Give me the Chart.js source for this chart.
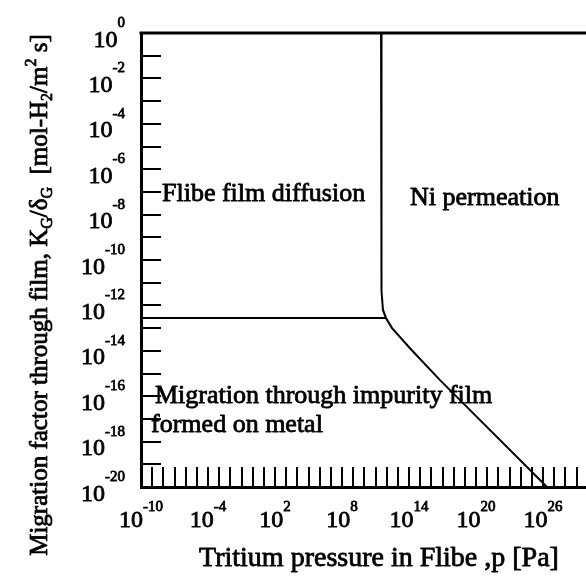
<!DOCTYPE html>
<html>
<head>
<meta charset="utf-8">
<script src="https://cdn.jsdelivr.net/npm/chart.js@4.4.1/dist/chart.umd.min.js"></script>
<style>
  html, body { margin: 0; padding: 0; background: #fff; }
  #wrap { width: 586px; height: 583px; }
</style>
</head>
<body>
<div id="wrap"><canvas id="c" width="586" height="583"></canvas></div>
<script>
// Boundary between film-controlled migration and Ni permeation
const niBoundaryP = [3.1e11, 3.4e11, 4.6e11, 8.5e11, 3.0e12, 1.2e14, 5.9e16, 9.8e25, 2.2e26];
const niBoundaryK = [1, 4.3e-12, 6.3e-13, 2.8e-13, 1.0e-13, 1.3e-14, 5.1e-16, 1.5e-20, 1e-20];
// Boundary between Flibe film diffusion and impurity-film migration
const filmBoundaryP = [1e-10, 8.5e11];
const filmBoundaryK = [2.8e-13, 2.8e-13];

// Labelled decades on each axis
const xLabelExps = [-10, -4, 2, 8, 14, 20, 26];
const yLabelExps = [0, -2, -4, -6, -8, -10, -12, -14, -16, -18, -20];

// Axis range (decades)
const xMinExp = -10, xMaxExp = 29.84;
const yMinExp = -20, yMaxExp = 0;

const regionNotes = [
  { text: 'Flibe film diffusion', xExp: -8.12, yExp: -7.40 },
  { text: 'Ni permeation', xExp: 14.08, yExp: -7.58 },
  { text: 'Migration through impurity film', xExp: -8.75, yExp: -16.30 },
  { text: 'formed on metal', xExp: -9.10, yExp: -17.58 }
];

const xTitle = 'Tritium pressure in Flibe ,p [Pa]';
// y title pieces: [text, mode] where mode is n (normal), b (subscript), p (superscript)
const yTitle = [
  ['Migration factor through film, K', 'n'], ['G', 'b'], ['/\u03b4', 'n'], ['G', 'b'],
  ['  [mol-H', 'n'], ['2', 'b'], ['/m', 'n'], ['2', 'p'], [' s]', 'n']
];

const SERIF = '"Liberation Serif", "Times New Roman", serif';
const toPoints = (xs, ys) => xs.map((v, i) => ({ x: v, y: ys[i] }));
const decades = (a, b) => { const t = []; for (let e = Math.ceil(a); e <= Math.floor(b); e++) t.push({ value: Math.pow(10, e) }); return t; };

// heavier type: fill plus a thin outline
function heavyText(ctx, s, x, y) {
  ctx.fillText(s, x, y);
  ctx.strokeText(s, x, y);
}

const axisDecor = {
  id: 'axisDecor',
  afterDraw(chart) {
    const { ctx, chartArea: a, scales: { x, y } } = chart;
    ctx.save();
    ctx.strokeStyle = '#000';
    ctx.fillStyle = '#000';

    // top edge of the frame
    ctx.lineWidth = 3;
    ctx.beginPath();
    ctx.moveTo(a.left - 1.5, a.top);
    ctx.lineTo(a.right, a.top);
    ctx.stroke();

    // inward tick marks, one per decade
    ctx.lineWidth = 2;
    ctx.beginPath();
    y.ticks.forEach(t => {
      const py = Math.round(y.getPixelForValue(t.value));
      if (py <= a.top + 2 || py >= a.bottom - 2) return;
      ctx.moveTo(a.left, py);
      ctx.lineTo(a.left + 20, py);
    });
    x.ticks.forEach(t => {
      const px = Math.round(x.getPixelForValue(t.value));
      if (px <= a.left + 2 || px > a.right) return;
      ctx.moveTo(px, a.bottom);
      ctx.lineTo(px, a.bottom - 20);
    });
    ctx.stroke();

    ctx.lineWidth = 0.8;
    ctx.lineJoin = 'round';
    const baseFont = '24px ' + SERIF;
    const supFont = '15px ' + SERIF;
    const expText = e => (e < 0 ? '-' + (-e) : String(e));

    // x tick labels: 10 with raised exponent, centred on the tick
    ctx.textBaseline = 'alphabetic';
    ctx.textAlign = 'left';
    xLabelExps.forEach(e => {
      const px = x.getPixelForValue(Math.pow(10, e));
      ctx.font = baseFont; const w1 = ctx.measureText('10').width;
      ctx.font = supFont; const w2 = ctx.measureText(expText(e)).width;
      const left = px - (w1 + w2) / 2;
      ctx.font = baseFont; heavyText(ctx, '10', left, a.bottom + 40);
      ctx.font = supFont; heavyText(ctx, expText(e), left + w1, a.bottom + 24);
    });

    // y tick labels, right-aligned left of the axis
    yLabelExps.forEach(e => {
      const py = y.getPixelForValue(Math.pow(10, e));
      const right = a.left - 16;
      ctx.font = supFont; const w2 = ctx.measureText(expText(e)).width;
      heavyText(ctx, expText(e), right - w2, py - 6);
      ctx.font = baseFont; const w1 = ctx.measureText('10').width;
      heavyText(ctx, '10', right - w2 - w1, py + 13.5);
    });

    // region names
    ctx.font = '26px ' + SERIF;
    regionNotes.forEach(n => {
      heavyText(ctx, n.text, x.getPixelForValue(Math.pow(10, n.xExp)), y.getPixelForValue(Math.pow(10, n.yExp)));
    });

    // x axis title
    ctx.font = '28px ' + SERIF;
    ctx.textAlign = 'center';
    heavyText(ctx, xTitle, 379, a.bottom + 79);

    // y axis title, rotated, with sub/superscripts
    ctx.textAlign = 'left';
    const big = 25, small = 16;
    const fontFor = m => (m === 'n' ? big : small) + 'px ' + SERIF;
    let total = 0;
    yTitle.forEach(([s, m]) => { ctx.font = fontFor(m); total += ctx.measureText(s).width; });
    ctx.translate(47, 295);
    ctx.rotate(-Math.PI / 2);
    let cx = -total / 2;
    yTitle.forEach(([s, m]) => {
      ctx.font = fontFor(m);
      const dy = m === 'b' ? 5 : (m === 'p' ? -11 : 0);
      heavyText(ctx, s, cx, dy);
      cx += ctx.measureText(s).width;
    });
    ctx.restore();
  }
};

new Chart(document.getElementById('c'), {
  type: 'scatter',
  data: {
    datasets: [
      { data: toPoints(niBoundaryP, niBoundaryK), showLine: true, borderColor: '#000', borderWidth: 2, pointRadius: 0, tension: 0 },
      { data: toPoints(filmBoundaryP, filmBoundaryK), showLine: true, borderColor: '#000', borderWidth: 2, pointRadius: 0, tension: 0 }
    ]
  },
  options: {
    responsive: false,
    animation: false,
    events: [],
    layout: { padding: { top: 33, left: 0, right: 0, bottom: 0 } },
    plugins: { legend: { display: false }, tooltip: { enabled: false } },
    scales: {
      x: {
        type: 'logarithmic',
        min: Math.pow(10, xMinExp), max: Math.pow(10, xMaxExp),
        afterBuildTicks: s => { s.ticks = decades(xMinExp, xMaxExp); },
        afterFit: s => { s.height = 96; },
        ticks: { display: false },
        grid: { display: false },
        border: { display: true, color: '#000', width: 3 }
      },
      y: {
        type: 'logarithmic',
        min: Math.pow(10, yMinExp), max: Math.pow(10, yMaxExp),
        afterBuildTicks: s => { s.ticks = decades(yMinExp, yMaxExp); },
        afterFit: s => { s.width = 141; },
        ticks: { display: false },
        grid: { display: false },
        border: { display: true, color: '#000', width: 3 }
      }
    }
  },
  plugins: [axisDecor]
});
</script>
</body>
</html>
